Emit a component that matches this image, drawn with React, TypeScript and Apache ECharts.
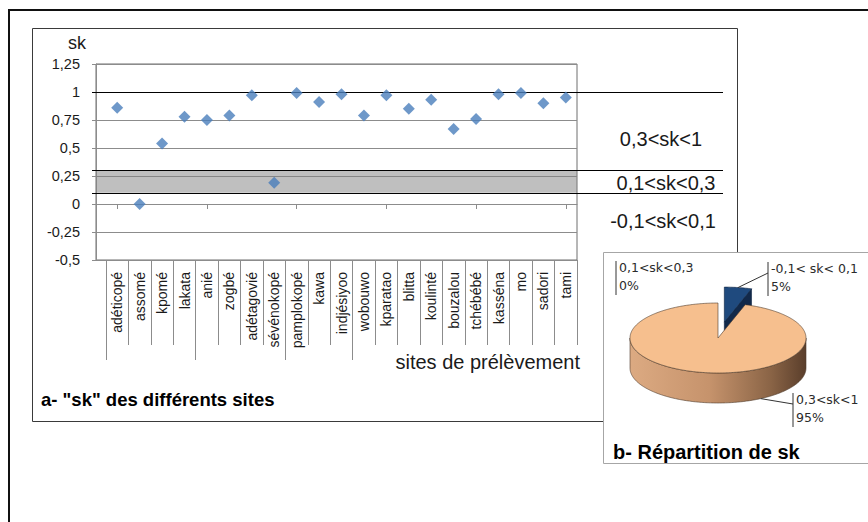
import { useEffect, useRef } from "react";
import * as echarts from "echarts";

// Sampling sites along the horizontal axis
const sites = [
  "adéticopé", "assomé", "kpomé", "lakata", "anié", "zogbé", "adétagovié",
  "sévénokopé", "pamplokopé", "kawa", "indjésiyoo", "wobouwo", "kparatao",
  "blitta", "koulinté", "bouzalou", "tchébébé", "kasséna", "mo", "sadori", "tami",
];

// sk value measured at each site
const skValues = [
  0.86, 0.0, 0.54, 0.78, 0.75, 0.79, 0.97, 0.19, 0.99, 0.91, 0.98,
  0.79, 0.97, 0.85, 0.93, 0.67, 0.76, 0.98, 0.99, 0.9, 0.95,
];

// Value axis range and step
const yMin = -0.5;
const yMax = 1.25;
const yStep = 0.25;

// Class limits drawn as horizontal rules, and the shaded class
const classLimits = [1, 0.3, 0.1];
const shadedClass = [0.1, 0.3];
const classTexts = ["0,3<sk<1", "0,1<sk<0,3", "-0,1<sk<0,1"];

// Pie: share of sites per class
const pieNames = ["-0,1< sk< 0,1", "0,1<sk<0,3", "0,3<sk<1"];
const pieCounts = [1, 0, 19];

const W = 868;
const H = 522;

export default function App() {
  const ref = useRef<HTMLDivElement>(null);

  useEffect(() => {
    if (!ref.current) return;
    const chart = echarts.init(ref.current, undefined, { renderer: "svg" });

    const FONT = "Liberation Sans";
    const GRID = "#8c8c8c";

    // plot area of panel a
    const pLeft = 96;
    const pRight = 577;
    const pTop = 64;
    const pBottom = 260;
    const catLeft = 106;
    const catWidth = pRight - catLeft;
    const bandW = catWidth / sites.length;

    const hiddenY = (gridIndex: number) => ({
      type: "value" as const,
      gridIndex,
      min: yMin,
      max: yMax,
      interval: yStep,
      show: false,
    });

    // pie geometry
    const total = pieCounts.reduce((a, b) => a + b, 0);
    let acc = 0;
    const sliceAngles = pieCounts.map((c) => {
      const a0 = (acc / total) * 360;
      acc += c;
      return [a0, (acc / total) * 360];
    });
    const PIE = { cx: 718, cy: 338, rx: 88, ry: 35, depth: 30 };
    const explode = [0.46, 0, 0];
    const topColors = ["#1f4a7e", "#9bbb59", "#f6bf8e"];
    const wallColors = ["#12294a", "#76923c", "#b88a64"];
    const edgeColors = ["#0d2342", "#4f6228", "#4d3a2c"];
    const sideGradients = [
      [
        { offset: 0, color: "#2a5a94" },
        { offset: 1, color: "#0f2642" },
      ],
      [
        { offset: 0, color: "#9bbb59" },
        { offset: 1, color: "#4f6228" },
      ],
      [
        { offset: 0, color: "#dcaa82" },
        { offset: 0.45, color: "#c6936c" },
        { offset: 0.8, color: "#8a6446" },
        { offset: 1, color: "#5a3e2b" },
      ],
    ];
    // label boxes (left bar position) and where the leader meets the slice
    const labelBoxes = [
      { x: 768, y: 259, attach: "top", to: 273 },
      { x: 616, y: 258, attach: "none", to: 0 },
      { x: 793, y: 390, attach: "bottom", angle: 151, to: 404 },
    ];

    const rad = (d: number) => (d * Math.PI) / 180;
    const pt = (deg: number, ox: number, oy: number, dy = 0) => [
      PIE.cx + PIE.rx * Math.sin(rad(deg)) + ox,
      PIE.cy - PIE.ry * Math.cos(rad(deg)) + oy + dy,
    ];
    const arc = (a0: number, a1: number, ox: number, oy: number, dy = 0) => {
      const pts: number[][] = [];
      const steps = Math.max(2, Math.ceil(Math.abs(a1 - a0)));
      for (let k = 0; k <= steps; k++) {
        pts.push(pt(a0 + ((a1 - a0) * k) / steps, ox, oy, dy));
      }
      return pts;
    };

    const renderSlice = (params: any) => {
      const i = params.dataIndex;
      const [a0, a1] = sliceAngles[i];
      const mid = (a0 + a1) / 2;
      const ox = explode[i] * PIE.rx * Math.sin(rad(mid));
      const oy = -explode[i] * PIE.ry * Math.cos(rad(mid));
      const c = [PIE.cx + ox, PIE.cy + oy];
      const children: any[] = [];
      const edge = { stroke: edgeColors[i], lineWidth: 0.6 };

      if (a1 - a0 > 0) {
        // front rim
        const s0 = Math.max(a0, 90);
        const s1 = Math.min(a1, 270);
        if (s1 > s0) {
          const topArc = arc(s0, s1, ox, oy);
          const botArc = arc(s1, s0, ox, oy, PIE.depth);
          children.push({
            type: "polygon",
            shape: { points: topArc.concat(botArc) },
            style: {
              fill: new echarts.graphic.LinearGradient(0, 0, 1, 0, sideGradients[i]),
              ...edge,
            },
          });
        }
        // cut faces turned toward the viewer
        const walls: number[] = [];
        if (Math.sin(rad(a0)) < -1e-6) walls.push(a0);
        if (Math.sin(rad(a1)) > 1e-6) walls.push(a1);
        walls.forEach((w) => {
          const p = pt(w, ox, oy);
          children.push({
            type: "polygon",
            shape: {
              points: [c, p, [p[0], p[1] + PIE.depth], [c[0], c[1] + PIE.depth]],
            },
            style: { fill: wallColors[i], ...edge },
          });
        });
        // top face
        children.push({
          type: "polygon",
          shape: { points: [c].concat(arc(a0, a1, ox, oy)) },
          style: { fill: topColors[i], ...edge },
        });
      }

      // label with its bar and leader line
      const box = labelBoxes[i];
      const pct = Math.round((pieCounts[i] / total) * 100);
      children.push({
        type: "line",
        shape: { x1: box.x, y1: box.y + 3, x2: box.x, y2: box.y + 37 },
        style: { stroke: "#333", lineWidth: 1 },
      });
      children.push({
        type: "text",
        style: {
          text: `${pieNames[i]}\n${pct}%`,
          x: box.x + 3,
          y: box.y,
          fill: "#2b2b2b",
          fontFamily: "DejaVu Sans",
          fontSize: 12.5,
          lineHeight: 18,
          verticalAlign: "top",
          align: "left",
        },
      });
      if (box.attach !== "none") {
        const from =
          box.attach === "top"
            ? pt(mid, ox, oy)
            : pt((box as any).angle, ox, oy, PIE.depth);
        children.push({
          type: "polyline",
          shape: { points: [from, [box.x, box.to]] },
          style: { stroke: "#333", lineWidth: 1, fill: null },
        });
      }
      return { type: "group", children };
    };

    chart.setOption({
      animation: false,
      backgroundColor: "#ffffff",
      textStyle: { fontFamily: FONT },
      grid: [
        // 0: value axis and gridlines
        { left: pLeft, top: pTop, width: pRight - pLeft, height: pBottom - pTop, show: true, borderColor: "#6e6e6e", borderWidth: 1 },
        // 1: sites (points and ticks on zero)
        { left: catLeft, top: pTop, width: catWidth, height: pBottom - pTop },
        // 2: class limit rules running past the plot
        { left: 92, top: pTop, width: 723 - 92, height: pBottom - pTop },
        // 3: site names and short separators
        { left: catLeft, top: pTop, width: catWidth, height: pBottom - pTop },
        // 4: longer separators for the first sites
        { left: catLeft, top: pTop, width: bandW * 11, height: pBottom - pTop },
      ],
      xAxis: [
        { type: "value", gridIndex: 0, min: 0, max: 1, show: false },
        {
          type: "category",
          gridIndex: 1,
          data: sites,
          axisLine: { show: true, onZero: true, lineStyle: { color: GRID } },
          axisTick: { show: true, alignWithLabel: true, length: 5, lineStyle: { color: GRID } },
          axisLabel: { show: false },
          splitLine: { show: false },
        },
        { type: "value", gridIndex: 2, min: 0, max: 1, show: false },
        {
          type: "category",
          gridIndex: 3,
          data: sites,
          position: "bottom",
          axisLine: { show: false, onZero: false },
          axisTick: { show: true, length: 85, lineStyle: { color: GRID } },
          axisLabel: {
            show: true,
            rotate: 90,
            margin: 12,
            fontSize: 14,
            color: "#1a1a1a",
            fontFamily: FONT,
            interval: 0,
          },
        },
        {
          type: "category",
          gridIndex: 4,
          data: sites.slice(0, 11),
          position: "bottom",
          axisLine: { show: false, onZero: false },
          axisTick: { show: true, length: 100, lineStyle: { color: GRID } },
          axisLabel: { show: false },
        },
      ],
      yAxis: [
        {
          type: "value",
          gridIndex: 0,
          min: yMin,
          max: yMax,
          interval: yStep,
          axisLine: { show: true, lineStyle: { color: GRID } },
          axisTick: { show: true, length: 4, lineStyle: { color: GRID } },
          axisLabel: {
            margin: 16,
            fontSize: 14.5,
            color: "#1a1a1a",
            fontFamily: FONT,
            formatter: (v: number) => String(v).replace(".", ","),
          },
          splitLine: { show: true, lineStyle: { color: GRID, width: 1 } },
        },
        hiddenY(1),
        hiddenY(2),
        hiddenY(3),
        hiddenY(4),
      ],
      series: [
        {
          type: "line",
          xAxisIndex: 0,
          yAxisIndex: 0,
          data: [],
          silent: true,
          markArea: {
            silent: true,
            itemStyle: { color: "rgba(128,128,128,0.5)" },
            data: [[{ yAxis: shadedClass[0] }, { yAxis: shadedClass[1] }]],
          },
        },
        {
          type: "line",
          xAxisIndex: 2,
          yAxisIndex: 2,
          data: [],
          silent: true,
          markLine: {
            silent: true,
            symbol: ["none", "none"],
            label: { show: false },
            lineStyle: { color: "#000000", width: 1, type: "solid" },
            data: classLimits.map((v) => ({ yAxis: v })),
          },
        },
        {
          type: "scatter",
          xAxisIndex: 1,
          yAxisIndex: 1,
          symbol: "diamond",
          symbolSize: 12,
          itemStyle: { color: "#4a7ebb" },
          data: skValues,
          z: 5,
        },
        {
          type: "custom",
          coordinateSystem: "none",
          data: pieCounts,
          renderItem: renderSlice,
          silent: true,
          z: 10,
        },
      ],
      graphic: [
        // outer frame
        {
          type: "polyline",
          z: -20,
          shape: { points: [[9, H], [9, 10], [W, 10]] },
          style: { stroke: "#111", lineWidth: 2, fill: null },
        },
        // panel a
        {
          type: "rect",
          z: -10,
          shape: { x: 32.5, y: 28.5, width: 705, height: 393 },
          style: { fill: "#fff", stroke: "#3a3a3a", lineWidth: 1 },
        },
        // panel b
        {
          type: "rect",
          z: -5,
          shape: { x: 603.5, y: 252.5, width: 300, height: 211 },
          style: { fill: "#fff", stroke: "#a6a6a6", lineWidth: 1 },
        },
        {
          type: "text",
          x: 77,
          y: 43,
          style: { text: "sk", fontSize: 18, fontFamily: FONT, fill: "#1a1a1a", align: "center", verticalAlign: "middle" },
        },
        {
          type: "text",
          x: 580,
          y: 362,
          style: { text: "sites de prélèvement", fontSize: 20, fontFamily: FONT, fill: "#1a1a1a", align: "right", verticalAlign: "middle" },
        },
        ...classTexts.map((t, k) => ({
          type: "text",
          x: [661, 666, 663][k],
          y: [139, 183, 221][k],
          style: { text: t, fontSize: 20, fontFamily: FONT, fill: "#1a1a1a", align: "center", verticalAlign: "middle" },
        })),
        {
          type: "text",
          x: 41,
          y: 399,
          style: { text: 'a- "sk" des différents sites', fontSize: 18.5, fontWeight: "bold", fontFamily: FONT, fill: "#000", verticalAlign: "middle" },
        },
        {
          type: "text",
          x: 613,
          y: 452,
          style: { text: "b- Répartition de sk", fontSize: 20, fontWeight: "bold", fontFamily: FONT, fill: "#000", verticalAlign: "middle" },
        },
      ],
    });

    return () => chart.dispose();
  }, []);

  return (
    <div
      ref={ref}
      style={{ position: "fixed", left: 0, top: 0, width: W, height: H, background: "#fff" }}
    />
  );
}
